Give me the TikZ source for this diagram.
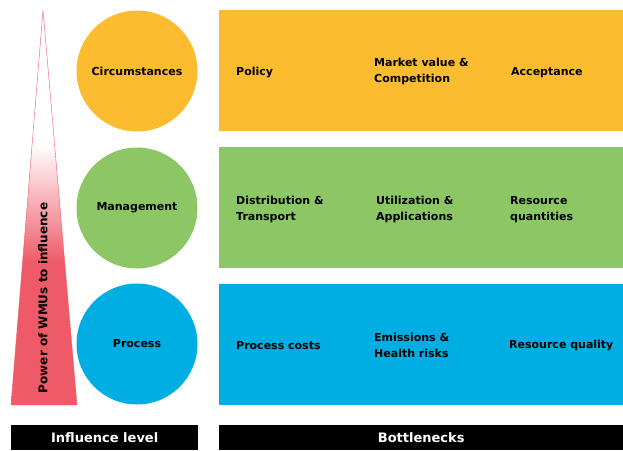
\documentclass[tikz,border=0pt]{standalone}
\usepackage{fontspec}
\setmainfont{DejaVu Sans}
\usetikzlibrary{positioning, shapes.geometric, calc}

\definecolor{wmuorange}{HTML}{FBBC30}
\definecolor{wmugreen}{HTML}{8DC765}
\definecolor{wmublue}{HTML}{00AEE4}
\definecolor{wmured}{HTML}{EE5A68}

% red at the base, white towards the apex
\pgfdeclareverticalshading{powershade}{100bp}{color(0bp)=(wmured); color(43bp)=(wmured); color(58bp)=(white); color(100bp)=(white)}

\begin{document}
\begin{tikzpicture}[
    x=1pt, y=-1pt,
    font=\bfseries\fontsize{11}{16}\selectfont,
    % Styles
    level/.style={ % Influence level circle
        circle,
        minimum size=121pt,
        inner sep=0pt
    },
    band/.style={ % Bottleneck row
        rectangle,
        anchor=north west,
        minimum width=404pt,
        minimum height=121pt,
        inner sep=0pt
    },
    item/.style={ % Bottleneck text
        anchor=west,
        align=left,
        inner sep=0pt
    },
    bar/.style={ % Black heading bar
        rectangle,
        anchor=north west,
        fill=black,
        text=white,
        font=\bfseries\fontsize{13}{15}\selectfont,
        minimum height=25pt,
        inner sep=0pt
    }
]
    \useasboundingbox (0,0) rectangle (623,450);

    % Power triangle
    \draw [wmured, shading=powershade] (11,405) -- (43,10) -- (77,405) -- cycle;
    \node [rotate=90, font=\bfseries\fontsize{12}{14}\selectfont] (power) at (43,298) {Power of WMUs to influence};

    % Influence levels
    \node [level, fill=wmuorange] (circ) at (137,71) {Circumstances};
    \node [level, fill=wmugreen] (mgmt) at (137,208) {Management};
    \node [level, fill=wmublue] (proc) at (137,344) {Process};

    % Bottleneck rows
    \node [band, fill=wmuorange] (rowc) at (219,10) {};
    \node [band, fill=wmugreen] (rowm) at (219,147) {};
    \node [band, fill=wmublue] (rowp) at (219,284) {};

    % Bottlenecks
    \node [item] (policy) at (236,72.5) {Policy};
    \node [item] (market) at (374,71.5) {Market value \&\\Competition};
    \node [item] (accept) at (511,72.5) {Acceptance};
    \node [item] (distr) at (236,209.5) {Distribution \&\\Transport};
    \node [item] (util) at (376,209.5) {Utilization \&\\Applications};
    \node [item] (quant) at (510,209.5) {Resource\\quantities};
    \node [item] (costs) at (236,345.5) {Process costs};
    \node [item] (emiss) at (374,345.5) {Emissions \&\\Health risks};
    \node [item] (quali) at (509,345.5) {Resource quality};

    % Headings
    \node [bar, minimum width=187pt] (inflevel) at (11,425) {Influence level};
    \node [bar, minimum width=404pt] (bottle) at (219,425) {Bottlenecks};
\end{tikzpicture}
\end{document}
